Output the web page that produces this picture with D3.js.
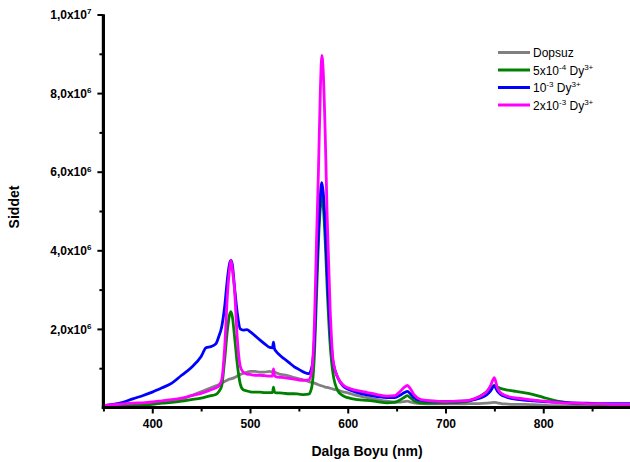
<!DOCTYPE html>
<html>
<head>
<meta charset="utf-8">
<script src="https://cdn.jsdelivr.net/npm/d3@7"></script>
<style>
  html, body { margin: 0; padding: 0; background: #fff; }
  svg { display: block; font-family: Arial, "Liberation Sans", sans-serif; }
</style>
</head>
<body>
<svg id="chart" width="630" height="462"></svg>
<script>
// Emission spectra (intensity in units of 1e6) on a shared wavelength grid (nm)
const wavelength = [350, 360, 370, 380, 390, 400, 410, 420, 430, 440, 450, 455, 460, 465, 468, 471, 474, 477, 479, 480.5, 482, 484, 487, 490, 493, 497, 500, 505, 510, 515, 520, 523, 524, 525, 527, 530, 535, 540, 545, 550, 555, 560, 563, 566, 568, 570, 572, 573.5, 575, 577, 579, 582, 585, 590, 595, 600, 610, 620, 630, 640, 648, 654, 658, 661, 664, 668, 675, 685, 700, 715, 725, 735, 742, 746, 750, 753, 757, 762, 770, 780, 790, 800, 810, 820, 830, 845, 860, 875, 890];

const dopsuz = [0.02, 0.03, 0.04, 0.06, 0.08, 0.10, 0.13, 0.17, 0.22, 0.30, 0.40, 0.45, 0.50, 0.55, 0.58, 0.62, 0.66, 0.70, 0.72, 0.73, 0.74, 0.76, 0.80, 0.84, 0.87, 0.90, 0.92, 0.92, 0.90, 0.90, 0.92, 0.90, 0.95, 0.90, 0.88, 0.85, 0.83, 0.80, 0.76, 0.73, 0.70, 0.66, 0.64, 0.62, 0.60, 0.58, 0.56, 0.55, 0.54, 0.52, 0.51, 0.49, 0.47, 0.44, 0.40, 0.37, 0.30, 0.25, 0.20, 0.16, 0.14, 0.14, 0.15, 0.16, 0.14, 0.12, 0.10, 0.09, 0.09, 0.09, 0.10, 0.10, 0.11, 0.12, 0.13, 0.12, 0.10, 0.09, 0.08, 0.08, 0.07, 0.06, 0.05, 0.05, 0.04, 0.04, 0.03, 0.03, 0.03];

const dy5e4 = [0.01, 0.02, 0.03, 0.05, 0.07, 0.08, 0.11, 0.13, 0.16, 0.20, 0.24, 0.27, 0.30, 0.33, 0.40, 0.55, 1.20, 2.00, 2.35, 2.44, 2.30, 1.85, 1.10, 0.60, 0.45, 0.42, 0.40, 0.39, 0.39, 0.38, 0.38, 0.38, 0.52, 0.40, 0.37, 0.37, 0.36, 0.35, 0.35, 0.34, 0.33, 0.34, 0.50, 1.40, 2.80, 4.20, 5.10, 5.40, 5.10, 4.20, 3.00, 1.60, 0.85, 0.42, 0.30, 0.25, 0.20, 0.18, 0.15, 0.12, 0.13, 0.20, 0.26, 0.30, 0.25, 0.17, 0.12, 0.11, 0.12, 0.13, 0.17, 0.28, 0.40, 0.48, 0.56, 0.52, 0.48, 0.45, 0.42, 0.38, 0.33, 0.26, 0.19, 0.14, 0.10, 0.09, 0.08, 0.08, 0.07];

const dy1e3 = [0.05, 0.08, 0.13, 0.22, 0.30, 0.39, 0.50, 0.62, 0.82, 1.02, 1.30, 1.52, 1.55, 1.62, 1.80, 2.05, 2.55, 3.30, 3.65, 3.74, 3.62, 3.10, 2.40, 2.00, 1.97, 1.98, 1.93, 1.83, 1.72, 1.62, 1.53, 1.52, 1.66, 1.50, 1.42, 1.34, 1.24, 1.14, 1.04, 0.97, 0.90, 0.86, 1.00, 1.80, 3.30, 4.50, 5.40, 5.72, 5.45, 4.60, 3.40, 2.00, 1.15, 0.75, 0.55, 0.47, 0.38, 0.32, 0.28, 0.25, 0.25, 0.32, 0.38, 0.41, 0.35, 0.25, 0.18, 0.16, 0.15, 0.16, 0.18, 0.24, 0.32, 0.42, 0.55, 0.42, 0.32, 0.27, 0.22, 0.19, 0.17, 0.15, 0.14, 0.13, 0.12, 0.11, 0.10, 0.10, 0.10];

const dy2e3 = [0.05, 0.07, 0.09, 0.11, 0.12, 0.14, 0.17, 0.20, 0.24, 0.30, 0.36, 0.40, 0.45, 0.50, 0.55, 0.70, 1.50, 2.90, 3.50, 3.74, 3.50, 3.05, 1.75, 1.05, 0.90, 0.85, 0.84, 0.82, 0.82, 0.81, 0.80, 0.80, 0.98, 0.82, 0.78, 0.77, 0.76, 0.74, 0.72, 0.70, 0.69, 0.70, 0.90, 2.20, 4.20, 6.00, 8.10, 8.96, 8.50, 6.90, 4.80, 2.50, 1.20, 0.75, 0.58, 0.50, 0.43, 0.38, 0.33, 0.29, 0.30, 0.42, 0.52, 0.56, 0.48, 0.32, 0.20, 0.17, 0.15, 0.16, 0.19, 0.28, 0.40, 0.55, 0.76, 0.50, 0.36, 0.30, 0.25, 0.22, 0.19, 0.16, 0.14, 0.12, 0.11, 0.10, 0.09, 0.08, 0.08];

const seriesColors = ["#808080", "#008000", "#0000ff", "#ff00ff"];
const seriesValues = [dopsuz, dy5e4, dy1e3, dy2e3];

// legend labels as [base, superscript] pieces
const legendParts = [
  [["Dopsuz", ""]],
  [["5x10", "-4"], [" Dy", "3+"]],
  [["10", "-3"], [" Dy", "3+"]],
  [["2x10", "-3"], [" Dy", "3+"]]
];

const xMajor = [400, 500, 600, 700, 800];
const xMinor = [350, 450, 550, 650, 750, 850];
const yMajor = [2e6, 4e6, 6e6, 8e6, 1e7];
const yMinor = [1e6, 3e6, 5e6, 7e6, 9e6];
const yTickText = {2e6: ["2,0x10", "6"], 4e6: ["4,0x10", "6"], 6e6: ["6,0x10", "6"], 8e6: ["8,0x10", "6"], 1e7: ["1,0x10", "7"]};

const svg = d3.select("#chart");
const plotLeft = 103.4, plotBottom = 407.5, plotTop = 14.5;

const x = d3.scaleLinear().domain([350, 890]).range([plotLeft, 631.2]);
const y = d3.scaleLinear().domain([0, 1e7]).range([plotBottom, plotTop]);

// spectra
const line = d3.line()
  .x((d, i) => x(wavelength[i]))
  .y(d => y(d * 1e6))
  .curve(d3.curveMonotoneX);

const plot = svg.append("g");
seriesValues.forEach((vals, k) => {
  plot.append("path")
    .datum(vals)
    .attr("d", line)
    .attr("fill", "none")
    .attr("stroke", seriesColors[k])
    .attr("stroke-width", 2.8)
    .attr("stroke-linejoin", "round");
});

// x axis
const gx = svg.append("g").attr("transform", `translate(0,${plotBottom})`);
gx.call(d3.axisBottom(x).tickValues(xMajor).tickSize(6).tickFormat(d3.format("d")));
const gxMinor = svg.append("g").attr("transform", `translate(0,${plotBottom})`);
gxMinor.call(d3.axisBottom(x).tickValues(xMinor).tickSize(4).tickFormat(""));
[gx, gxMinor].forEach(g => {
  g.select(".domain").attr("stroke", "#000").attr("stroke-width", 3)
    .attr("d", `M${plotLeft - 1.5},0H630`);
  g.selectAll(".tick line").attr("stroke", "#000").attr("stroke-width", 2);
});
gx.selectAll(".tick text")
  .attr("y", 12)
  .attr("font-size", 12)
  .attr("font-weight", "bold")
  .attr("font-family", "Arial, 'Liberation Sans', sans-serif")
  .attr("fill", "#000");

// y axis
const gy = svg.append("g").attr("transform", `translate(${plotLeft},0)`);
gy.call(d3.axisLeft(y).tickValues(yMajor).tickSize(6).tickFormat(""));
const gyMinor = svg.append("g").attr("transform", `translate(${plotLeft},0)`);
gyMinor.call(d3.axisLeft(y).tickValues(yMinor).tickSize(4).tickFormat(""));
[gy, gyMinor].forEach(g => {
  g.select(".domain").attr("stroke", "#000").attr("stroke-width", 3)
    .attr("d", `M0,${plotTop}V${plotBottom + 1.5}`);
  g.selectAll(".tick line").attr("stroke", "#000").attr("stroke-width", 2);
});
gy.selectAll(".tick").each(function(d) {
  const parts = yTickText[d];
  const t = d3.select(this).append("text")
    .attr("x", -12)
    .attr("dy", "0.35em")
    .attr("text-anchor", "end")
    .attr("font-size", 12)
    .attr("font-weight", "bold")
    .attr("font-family", "Arial, 'Liberation Sans', sans-serif")
    .attr("fill", "#000");
  t.append("tspan").text(parts[0]);
  t.append("tspan").attr("font-size", 8).attr("dy", "-0.6em").text(parts[1]);
});

// axis titles
svg.append("text")
  .attr("x", 367).attr("y", 456)
  .attr("text-anchor", "middle")
  .attr("font-size", 14).attr("font-weight", "bold")
  .text("Dalga Boyu (nm)");

svg.append("text")
  .attr("transform", "translate(19,207) rotate(-90)")
  .attr("text-anchor", "middle")
  .attr("font-size", 14).attr("font-weight", "bold")
  .text("Siddet");

// legend
const legend = svg.append("g").attr("transform", "translate(498,52.5)");
legendParts.forEach((parts, k) => {
  const row = legend.append("g").attr("transform", `translate(0,${k * 17.5})`);
  row.append("line")
    .attr("x1", 0).attr("x2", 32).attr("y1", 0).attr("y2", 0)
    .attr("stroke", seriesColors[k]).attr("stroke-width", 3);
  const t = row.append("text")
    .attr("x", 35).attr("y", 4.5)
    .attr("font-size", 12).attr("fill", "#000");
  parts.forEach(([base, sup]) => {
    t.append("tspan").attr("baseline-shift", "0").text(base);
    if (sup) {
      t.append("tspan").attr("font-size", 8).attr("baseline-shift", "5").text(sup);
    }
  });
});
</script>
</body>
</html>
